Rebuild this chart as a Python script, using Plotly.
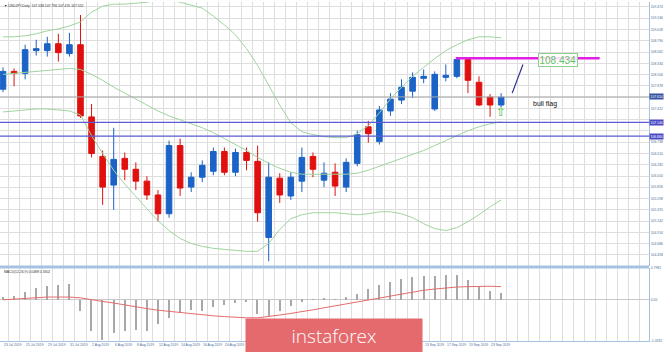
import plotly.graph_objects as go

# ---------------- data ----------------
dates = ["23 Jul 2019", "24 Jul 2019", "25 Jul 2019", "26 Jul 2019", "29 Jul 2019", "30 Jul 2019",
         "31 Jul 2019", "1 Aug 2019", "2 Aug 2019", "5 Aug 2019", "6 Aug 2019", "7 Aug 2019",
         "8 Aug 2019", "9 Aug 2019", "12 Aug 2019", "13 Aug 2019", "14 Aug 2019", "15 Aug 2019",
         "16 Aug 2019", "19 Aug 2019", "20 Aug 2019", "21 Aug 2019", "22 Aug 2019", "23 Aug 2019",
         "26 Aug 2019", "27 Aug 2019", "28 Aug 2019", "29 Aug 2019", "30 Aug 2019", "2 Sep 2019",
         "3 Sep 2019", "4 Sep 2019", "5 Sep 2019", "6 Sep 2019", "9 Sep 2019", "10 Sep 2019",
         "11 Sep 2019", "12 Sep 2019", "13 Sep 2019", "16 Sep 2019", "17 Sep 2019", "18 Sep 2019",
         "19 Sep 2019", "20 Sep 2019", "23 Sep 2019", "24 Sep 2019"]

open_ = [107.81, 108.17, 108.13, 108.59, 108.59, 108.73, 108.53, 108.71, 107.25, 106.45, 105.87, 106.41,
         106.19, 105.95, 105.67, 105.29, 106.67, 105.83, 106.03, 106.15, 106.55, 106.13, 106.53, 106.35,
         104.81, 106.01, 105.65, 105.95, 106.45, 105.97, 106.13, 105.83, 106.31, 107.05, 106.75, 107.37,
         107.59, 107.77, 108.03, 107.41, 108.05, 108.07, 108.41, 107.95, 107.65, 107.49]
high = [108.25, 108.23, 108.71, 108.81, 108.87, 108.93, 108.95, 109.31, 107.51, 106.57, 107.03, 106.53,
        106.33, 106.05, 105.77, 106.77, 106.81, 106.13, 106.37, 106.63, 106.63, 106.61, 106.63, 106.67,
        106.33, 106.11, 106.13, 106.63, 106.53, 106.33, 106.31, 106.41, 106.97, 107.17, 107.47, 107.73,
        108.01, 108.15, 108.21, 108.17, 108.31, 108.43, 108.43, 108.07, 107.71, 107.73]
low = [107.75, 107.87, 108.01, 108.49, 108.47, 108.37, 108.47, 107.23, 106.43, 105.47, 105.37, 105.97,
       105.77, 105.57, 105.13, 105.21, 105.65, 105.73, 105.93, 106.07, 106.07, 106.05, 106.17, 105.13,
       104.33, 105.51, 105.57, 105.73, 106.03, 105.83, 105.65, 105.73, 106.25, 106.73, 106.69, 107.27,
       107.51, 107.63, 107.93, 107.37, 107.97, 108.03, 107.73, 107.47, 107.25, 107.45]
close = [108.17, 108.13, 108.61, 108.63, 108.73, 108.55, 108.71, 107.27, 106.51, 105.83, 106.39, 106.19,
         105.95, 105.67, 105.29, 106.67, 105.81, 106.03, 106.27, 106.55, 106.13, 106.53, 106.37, 105.31,
         106.03, 105.67, 106.03, 106.43, 106.19, 106.11, 105.85, 106.33, 106.89, 106.91, 107.39, 107.61,
         107.85, 108.05, 108.07, 108.11, 108.09, 108.41, 107.99, 107.49, 107.49, 107.65]

bb_upper = [108.87, 108.87, 108.89, 108.93, 108.99, 109.03, 109.09, 109.17, 109.37, 109.49, 109.53, 109.53,
            109.55, 109.57, 109.61, 109.61, 109.57, 109.51, 109.45, 109.29, 109.11, 108.91, 108.63, 108.29,
            107.89, 107.49, 107.13, 106.95, 106.89, 106.85, 106.83, 106.83, 106.91, 107.07, 107.33, 107.61,
            107.85, 108.07, 108.25, 108.43, 108.59, 108.71, 108.81, 108.87, 108.87, 108.85]
bb_mid = [108.11, 108.13, 108.15, 108.17, 108.19, 108.21, 108.23, 108.21, 108.11, 107.99, 107.85, 107.73,
          107.61, 107.49, 107.37, 107.27, 107.19, 107.11, 107.03, 106.93, 106.81, 106.69, 106.57, 106.43,
          106.31, 106.21, 106.13, 106.09, 106.09, 106.09, 106.09, 106.09, 106.11, 106.17, 106.25, 106.33,
          106.41, 106.49, 106.57, 106.67, 106.77, 106.87, 106.97, 107.05, 107.11, 107.15]
bb_lower = [107.35, 107.37, 107.39, 107.41, 107.41, 107.39, 107.37, 107.29, 106.87, 106.51, 106.17, 105.89,
            105.63, 105.39, 105.15, 104.95, 104.79, 104.69, 104.63, 104.59, 104.57, 104.55, 104.53, 104.53,
            104.69, 104.97, 105.19, 105.27, 105.31, 105.31, 105.31, 105.29, 105.27, 105.29, 105.33, 105.33,
            105.29, 105.21, 105.09, 104.99, 104.95, 105.01, 105.13, 105.27, 105.43, 105.57]

macd_hist = [0.06, 0.10, 0.20, 0.30, 0.35, 0.38, 0.40, -0.28, -0.79, -1.00, -0.84, -0.79,
             -0.76, -0.78, -0.60, -0.45, -0.33, -0.25, -0.28, -0.18, -0.12, -0.08, -0.06, -0.35,
             -0.40, -0.28, -0.15, -0.05, 0.02, 0.03, 0.02, 0.06, 0.15, 0.28, 0.38, 0.45,
             0.52, 0.58, 0.60, 0.60, 0.62, 0.63, 0.50, 0.36, 0.22, 0.18]
macd_signal = [0.00, 0.02, 0.04, 0.06, 0.07, 0.07, 0.07, 0.05, 0.00, -0.04, -0.08, -0.13,
               -0.18, -0.22, -0.26, -0.29, -0.32, -0.35, -0.38, -0.40, -0.42, -0.44, -0.45, -0.45,
               -0.42, -0.38, -0.34, -0.30, -0.25, -0.20, -0.15, -0.10, -0.05, 0.00, 0.05, 0.10,
               0.15, 0.20, 0.24, 0.27, 0.30, 0.32, 0.33, 0.34, 0.34, 0.33]

price_ticks = [109.474, 109.246, 109.018, 108.790, 108.562, 108.334, 108.106, 107.878, 107.650, 107.422,
               107.194, 106.966, 106.738, 106.510, 106.282, 106.054, 105.826, 105.598, 105.370, 105.142,
               104.914, 104.686, 104.458, 104.230]
hidden_ticks = [107.650, 107.194, 106.966]
macd_ticks = [0.7982, 0.0, -1.0332]
macd_ticktext = ["0.7982", "0.00", "-1.0332"]
date_label_idx = [0, 2, 4, 6, 8, 10, 12, 14, 16, 18, 20, 38, 40, 42, 44]

bid_level = 107.654
support_levels = [107.14, 106.86]
resistance_level = 108.434
flag_line = ([46.0, 46.97], [107.73, 108.31])

# ---------------- figure ----------------
W, H = 665, 352
PW = 649  # plot area width
idx = list(range(len(dates)))
x_range = [-0.271, -0.271 + PW / 11.07]
main_range = [104.234, 109.574]
macd_range = [-1.0332, 0.7982]

def py(px):
    return 1 - px / H

BLUE = "#1B63C6"
RED = "#E0100F"
BAND = "#9FD49F"
AXC = "#A5C2E0"
LBL = "#4F6E93"
GRID = "#DEDEDE"
TINY = 3.4

fig = go.Figure()

for band in (bb_upper, bb_mid, bb_lower):
    fig.add_trace(go.Scatter(x=idx, y=band, mode="lines", line=dict(color=BAND, width=1),
                             xaxis="x", yaxis="y", hoverinfo="skip"))

fig.add_trace(go.Candlestick(
    x=idx, open=open_, high=high, low=low, close=close, xaxis="x", yaxis="y",
    increasing=dict(line=dict(color=BLUE, width=1), fillcolor=BLUE),
    decreasing=dict(line=dict(color=RED, width=1), fillcolor=RED),
    whiskerwidth=0, hoverinfo="skip"))

fig.add_trace(go.Bar(x=idx, y=macd_hist, width=0.12, marker=dict(color="#A8A8A8", line=dict(width=0)),
                     xaxis="x2", yaxis="y2", hoverinfo="skip"))
fig.add_trace(go.Scatter(x=idx, y=macd_signal, mode="lines", line=dict(color="#E46C6C", width=1),
                         xaxis="x2", yaxis="y2", hoverinfo="skip"))

ticktext = ["" if t in hidden_ticks else f"{t:.3f}" for t in price_ticks]

common_x = dict(tickmode="linear", tick0=0.5, dtick=1, showgrid=True,
                gridcolor=GRID, gridwidth=1, showticklabels=False, ticks="", zeroline=False,
                rangeslider=dict(visible=False), fixedrange=True)

fig.update_layout(
    width=W, height=H, margin=dict(l=0, r=W - PW, t=0, b=0),
    paper_bgcolor="white", plot_bgcolor="white", showlegend=False, hovermode=False,
    bargap=0, boxgap=0.28,
    xaxis=dict(domain=[0, 1], anchor="y", range=x_range, **common_x),
    xaxis2=dict(domain=[0, 1], anchor="y2", matches="x", showline=True, linecolor=AXC, linewidth=1,
                **common_x),
    yaxis=dict(domain=[py(267), 1], range=main_range, side="right", tickmode="array",
               tickvals=price_ticks, ticktext=ticktext, tickfont=dict(size=TINY, color=LBL,
               family="Liberation Sans"), showgrid=True, gridcolor=GRID, ticks="",
               showline=True, linecolor=AXC, linewidth=1, zeroline=False, fixedrange=True),
    yaxis2=dict(domain=[py(343), py(269)], range=macd_range, side="right", tickmode="array",
                tickvals=macd_ticks, ticktext=macd_ticktext,
                tickfont=dict(size=TINY, color=LBL, family="Liberation Sans"), showgrid=False,
                ticks="", showline=True, linecolor=AXC, linewidth=1, zeroline=True,
                zerolinecolor="#C8C8C8", zerolinewidth=1, fixedrange=True),
)

shapes = []
shapes.append(dict(type="line", xref="paper", yref="y", x0=0, x1=1, y0=bid_level, y1=bid_level,
                   line=dict(color="#A9A9A9", width=1)))
for lv in support_levels:
    shapes.append(dict(type="line", xref="paper", yref="y", x0=0, x1=1, y0=lv, y1=lv,
                       line=dict(color="#5B5BD4", width=1.3)))
shapes.append(dict(type="line", xref="x", yref="y", x0=40.9, x1=53.9, y0=resistance_level,
                   y1=resistance_level, line=dict(color="#E41FE4", width=2.5)))
shapes.append(dict(type="line", xref="x", yref="y", x0=flag_line[0][0], x1=flag_line[0][1],
                   y0=flag_line[1][0], y1=flag_line[1][1], line=dict(color="#2F2F90", width=1.2)))
shapes.append(dict(type="line", xref="paper", yref="paper", x0=0, x1=1, y0=py(268), y1=py(268),
                   line=dict(color=AXC, width=3)))
fig.update_layout(shapes=shapes)

ann = []
for lv, col in [(bid_level, "#34529F"), (support_levels[0], "#4A4AC6"), (support_levels[1], "#4A4AC6")]:
    ann.append(dict(x=1, xref="paper", y=lv, yref="y", text=f"{lv:.3f}", showarrow=False,
                    xanchor="left", yanchor="middle", bgcolor=col, borderpad=0.5,
                    font=dict(size=TINY, color="white", family="Liberation Sans")))
for i in date_label_idx:
    ann.append(dict(x=i - 0.1, xref="x2", y=py(347), yref="paper", text=dates[i], showarrow=False,
                    xanchor="left", yanchor="middle",
                    font=dict(size=TINY, color=LBL, family="Liberation Sans")))
ann.append(dict(x=2 / PW, xref="paper", y=py(4), yref="paper", showarrow=False, xanchor="left",
                yanchor="middle", text="▼ USDJPY,Daily  107.538 107.796 107.470 107.552",
                font=dict(size=TINY, color="#333333", family="Liberation Sans")))
ann.append(dict(x=2 / PW, xref="paper", y=py(273), yref="paper", showarrow=False, xanchor="left",
                yanchor="middle", text="MACD(12,26,9) 0.0488 0.3302",
                font=dict(size=TINY, color="#333333", family="Liberation Sans")))
ann.append(dict(x=50.1, xref="x", y=108.40, yref="y", text="108.434", showarrow=False,
                font=dict(size=10, color="#68BC68", family="Liberation Sans"),
                bordercolor="#8ED08E", borderwidth=1, borderpad=0.5, bgcolor="rgba(255,255,255,0.85)"))
ann.append(dict(x=49.0, xref="x", y=107.51, yref="y", text="bull flag", showarrow=False,
                font=dict(size=7, color="#111111", family="Liberation Sans")))
ann.append(dict(x=45.0, xref="x", y=107.34, yref="y", text="⇧", showarrow=False,
                font=dict(size=12, color="#3FB83F", family="DejaVu Sans")))
ann.append(dict(x=245 / PW, xref="paper", y=py(320), yref="paper", xanchor="left", yanchor="top",
                text="instaforex", showarrow=False, width=176, height=34, align="center",
                valign="middle", bgcolor="#E56A6D", borderpad=0,
                font=dict(size=19, color="white", family="Open Sans", weight=300)))
fig.update_layout(annotations=ann)

fig.write_html("out.html")
